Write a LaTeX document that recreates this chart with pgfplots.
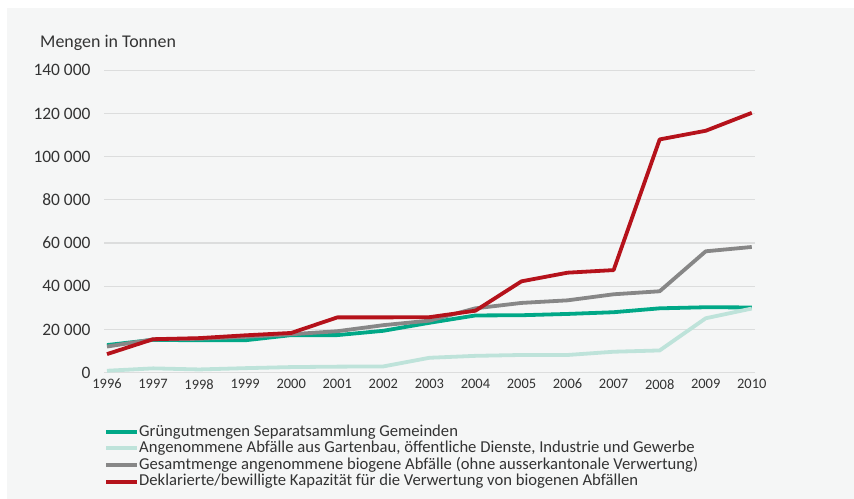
\documentclass[border=0pt]{standalone}
\usepackage{fontspec}
\setmainfont{Carlito}
\usepackage{pgfplots}
\pgfplotsset{compat=1.18}
\definecolor{bgc}{HTML}{F5F6F6}
\definecolor{gridc}{HTML}{DCDDDD}
\definecolor{txtc}{HTML}{333333}
\definecolor{cgreen}{HTML}{00A887}
\definecolor{clight}{HTML}{BEE3DA}
\definecolor{cgrey}{HTML}{878787}
\definecolor{cred}{HTML}{B5121B}
\begin{document}
\begin{tikzpicture}[x=1bp,y=1bp]
\useasboundingbox (0,0) rectangle (854,499);
\fill[white] (0,0) rectangle (854,499);
\fill[bgc] (7,0) rectangle (854,491);
\node[anchor=west, text=txtc, font=\fontsize{18}{21}\selectfont, inner sep=0pt] at (40,456) {Mengen in Tonnen};
\begin{axis}[
  at={(104bp,126.3bp)}, anchor=south west,
  scale only axis, width=651bp, height=302.4bp,
  xmin=1995.935, xmax=2010.07, ymin=0, ymax=140000,
  axis line style={draw=none},
  major tick length=0pt,
  xtick={1996,1997,1998,1999,2000,2001,2002,2003,2004,2005,2006,2007,2008,2009,2010},
  xticklabels={1996,1997,1998,1999,2000,2001,2002,2003,2004,2005,2006,2007,2008,2009,2010},
  ytick={0,20000,40000,60000,80000,100000,120000,140000},
  yticklabels={0,20 000,40 000,60 000,80 000,100 000,120 000,140 000},
  ymajorgrids, grid style={gridc, line width=1.2bp},
  scaled y ticks=false,
  yticklabel style={font=\fontsize{17.5}{20}\selectfont, text=txtc, xshift=-10bp},
  xticklabel style={font=\fontsize{14.5}{17}\selectfont, text=txtc, yshift=-3bp},
  legend style={at={(0,0)}, anchor=north west, yshift=-51.5bp, draw=none, fill=none,
    inner sep=0pt, font=\fontsize{16.7}{19}\selectfont, text=txtc,
    nodes={inner sep=0pt, text height=11.8bp, text depth=3.2bp}, row sep=1.6bp},
  legend cell align=left,
  /tikz/every even column/.append style={column sep=6bp},
  legend image code/.code={\draw[#1, line width=4bp] (0bp,0bp) -- (31bp,0bp);},
  every axis plot/.append style={line width=3.8bp, line join=round},
]
\addplot[cgreen] coordinates {(1996,12800)(1997,15200)(1998,15000)(1999,15000)(2000,17400)(2001,17400)(2002,19400)(2003,23100)(2004,26500)(2005,26600)(2006,27200)(2007,28000)(2008,29800)(2009,30300)(2010,30200)};
\addlegendentry{Grüngutmengen Separatsammlung Gemeinden}
\addplot[clight] coordinates {(1996,900)(1997,2000)(1998,1500)(1999,2100)(2000,2600)(2001,2800)(2002,2900)(2003,6900)(2004,7800)(2005,8200)(2006,8200)(2007,9700)(2008,10300)(2009,25200)(2010,29700)};
\addlegendentry{Angenommene Abfälle aus Gartenbau, öffentliche Dienste, Industrie und Gewerbe}
\addplot[cgrey] coordinates {(1996,12100)(1997,15400)(1998,15700)(1999,16600)(2000,17800)(2001,19200)(2002,22000)(2003,24100)(2004,29800)(2005,32300)(2006,33500)(2007,36300)(2008,37700)(2009,56200)(2010,58200)};
\addlegendentry{Gesamtmenge angenommene biogene Abfälle (ohne ausserkantonale Verwertung)}
\addplot[cred] coordinates {(1996,8600)(1997,15500)(1998,16000)(1999,17300)(2000,18400)(2001,25600)(2002,25600)(2003,25700)(2004,28700)(2005,42300)(2006,46300)(2007,47500)(2008,108000)(2009,112000)(2010,120300)};
\addlegendentry{Deklarierte/bewilligte Kapazität für die Verwertung von biogenen Abfällen}
\end{axis}
\end{tikzpicture}
\end{document}
